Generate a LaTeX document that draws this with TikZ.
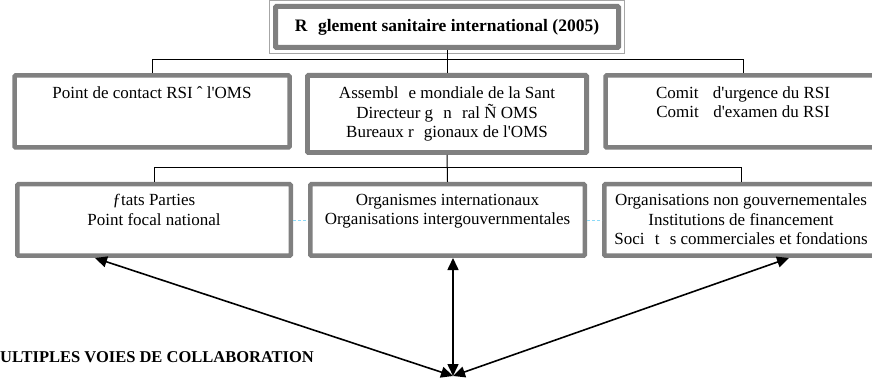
\documentclass[tikz,border=0pt]{standalone}
\usepackage{fontspec}
\setmainfont{Liberation Serif}
\usetikzlibrary{arrows.meta,positioning,calc}

\newcommand{\trou}{\hspace{0.6em}}
\newcommand{\apos}{\textquotesingle}

\begin{document}
\begin{tikzpicture}[
  x=1pt, y=-1pt,
  box/.style={draw=gray, line width=4.5pt, rounded corners=1pt, inner sep=0pt, minimum width=275pt, minimum height=72pt},
  texte/.style={align=center, inner sep=0pt, font=\fontsize{17}{19.5}\selectfont},
  lien/.style={line width=1pt},
  fin/.style={draw=gray, line width=1pt},
  fleche/.style={{Triangle[length=12pt,width=11pt]}-{Triangle[length=12pt,width=11pt]}, line width=1.6pt},
  pointille/.style={cyan!45, densely dashed, line width=0.6pt}
]
\useasboundingbox (0,0) rectangle (872,379);

% haut
\node[box, minimum width=343pt, minimum height=41pt, line width=5pt] (titre) at (447,27) {};
\draw[gray!70, line width=0.8pt] ([shift={(-3.5pt,3.5pt)}]titre.north west) rectangle ([shift={(3.5pt,-3.5pt)}]titre.south east);
\node[texte, font=\fontsize{17.5}{19.5}\selectfont\bfseries] at (titre) {R\trou glement sanitaire international (2005)};

% premier niveau
\node[box] (pcr) at (152,111.5) {};
\node[box, minimum width=279.5pt, minimum height=77.5pt] (oms) at (447,114) {};
\node[box] (cmt) at (743,111.5) {};
\draw[fin] ([shift={(4.5pt,-4.5pt)}]oms.north west) rectangle ([shift={(-4.5pt,4.5pt)}]oms.south east);

\node[texte, below=13pt of pcr.north] {Point de contact RSI ˆ l\apos OMS};
\node[texte, below=14pt of oms.north] {Assembl\trou e mondiale de la Sant\\Directeur g\trou n\trou ral Ñ OMS\\Bureaux r\trou gionaux de l\apos OMS};
\node[texte, below=13pt of cmt.north] {Comit\trou\ d\apos urgence du RSI\\Comit\trou\ d\apos examen du RSI};

% second niveau
\node[box, minimum width=273.5pt, minimum height=71.5pt] (ep) at (154,220) {};
\node[box, minimum width=274.5pt, minimum height=71.5pt] (oi) at (447.5,220) {};
\node[box, minimum width=273.5pt, minimum height=71.5pt] (ong) at (741,220) {};

\node[texte, below=12pt of ep.north] {ƒtats Parties\\Point focal national};
\node[texte, below=12pt of oi.north] {Organismes internationaux\\Organisations intergouvernmentales};
\node[texte, below=12pt of ong.north] {Organisations non gouvernementales\\Institutions de financement\\Soci\trou t\trou s commerciales et fondations};

% liaisons
\coordinate (bus1) at (447,60);
\coordinate (bus2) at (447,168);
\draw[lien] (titre.south) -- (oms.north);
\draw[lien] (pcr.north) -- (pcr.north |- bus1) -| (cmt.north);
\draw[lien] (oms.south) -- (oi.north);
\draw[lien] (ep.north) -- (ep.north |- bus2) -| (ong.north);
\draw[pointille] (ep.east) -- (oi.west);
\draw[pointille] (oi.east) -- (ong.west);

% collaboration
\coordinate (hub) at (453,376);
\draw[fleche] (hub) -- ($(ep.south)+(-59,0)$);
\draw[fleche] (hub) -- ($(oi.south)+(5.5,0)$);
\draw[fleche] (hub) -- ($(ong.south)+(48,0)$);
\node[anchor=west, inner sep=0pt, font=\fontsize{16.5}{19}\selectfont\bfseries] (multi) at (0,357) {ULTIPLES VOIES DE COLLABORATION};
\end{tikzpicture}
\end{document}
